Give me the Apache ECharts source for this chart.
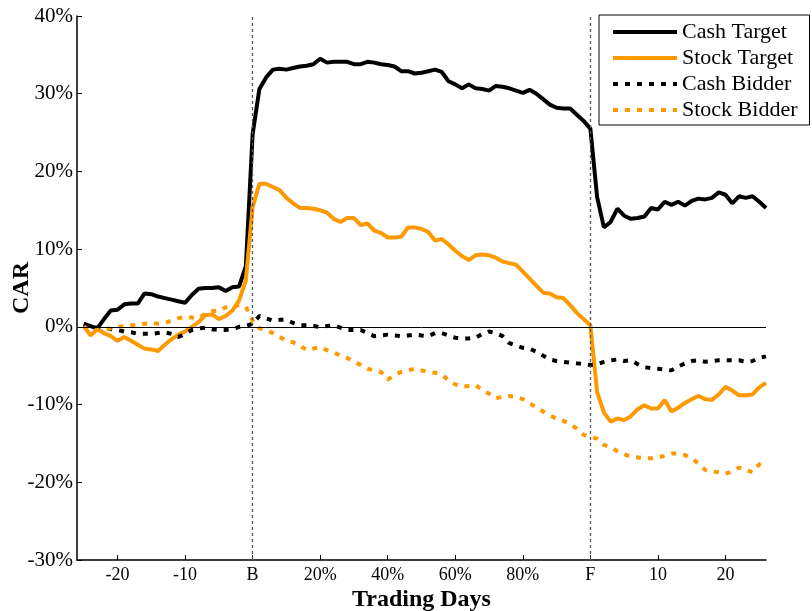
<!DOCTYPE html>
<html>
<head>
<meta charset="utf-8">
<script src="https://cdn.jsdelivr.net/npm/echarts@6/dist/echarts.min.js"></script>
<style>
  html, body { margin: 0; padding: 0; background: #fff; }
  #main { width: 812px; height: 611px; }
</style>
</head>
<body>
<div id="main"></div>
<script>
// x positions: days before B, then B..F scaled to 50 steps (2% each), then days after F
var days = [];
for (var u = -26; u <= 76; u++) days.push(String(u));

var tickDays = ['-20', '-10', '0', '10', '20', '30', '40', '50', '60', '70'];
var tickLabels = ['-20', '-10', 'B', '20%', '40%', '60%', '80%', 'F', '10', '20'];

// CAR in %, from day -25 up to F+26
var cashTarget = [
  0.4, 0.1, -0.2, 1.0, 2.1, 2.2, 2.9, 3.0, 3.0, 4.3,
  4.2, 3.9, 3.7, 3.5, 3.3, 3.1, 4.1, 4.9, 5.0, 5.0,
  5.1, 4.6, 5.1, 5.2, 7.8,
  24.8,
  30.6, 32.1, 33.1, 33.2, 33.1, 33.3, 33.5, 33.6, 33.8, 34.5,
  34.0, 34.1, 34.1, 34.1, 33.8, 33.8, 34.1, 34.0, 33.8, 33.7,
  33.5, 32.9, 32.9, 32.6, 32.7, 32.9, 33.1, 32.8, 31.6, 31.2,
  30.7, 31.2, 30.7, 30.6, 30.4, 31.0, 30.9, 30.7, 30.4, 30.1,
  30.5, 30.0, 29.3, 28.6, 28.2, 28.1, 28.1, 27.3, 26.5, 25.5,
  16.7, 12.8, 13.5, 15.2, 14.3, 13.9, 14.0, 14.2, 15.3, 15.1,
  16.1, 15.7, 16.1, 15.6, 16.2, 16.5, 16.4, 16.6, 17.3, 17.0,
  15.9, 16.8, 16.6, 16.8, 16.1, 15.3
];
var stockTarget = [
  0.1, -1.1, -0.3, -0.8, -1.2, -1.8, -1.3, -1.8, -2.3, -2.8,
  -2.9, -3.1, -2.3, -1.6, -1.0, -0.6, 0.0, 0.6, 1.5, 1.6,
  1.0, 1.4, 2.1, 3.4, 6.0,
  15.4,
  18.4, 18.4, 18.0, 17.6, 16.6, 15.9, 15.3, 15.3, 15.2, 15.0,
  14.7, 13.9, 13.5, 14.0, 14.0, 13.1, 13.3, 12.4, 12.1, 11.5,
  11.5, 11.6, 12.8, 12.8, 12.6, 12.2, 11.1, 11.3, 10.6, 9.8,
  9.1, 8.6, 9.2, 9.3, 9.2, 8.9, 8.4, 8.2, 8.0, 7.1,
  6.2, 5.3, 4.4, 4.3, 3.8, 3.7, 2.8, 1.8, 1.0, 0.2,
  -8.4, -11.0, -12.2, -11.8, -12.0, -11.5, -10.6, -10.1, -10.5, -10.5,
  -9.4, -10.9, -10.4, -9.8, -9.3, -8.9, -9.3, -9.4, -8.7, -7.7,
  -8.2, -8.8, -8.8, -8.7, -7.8, -7.2
];
var cashBidder = [
  0.3, 0.0, -0.1, -0.2, -0.3, -0.4, -0.6, -0.7, -0.9, -0.9,
  -0.9, -0.8, -0.7, -0.9, -1.3, -0.9, -0.4, -0.2, -0.1, -0.3,
  -0.4, -0.4, -0.3, 0.0, 0.1,
  0.4,
  1.4, 1.1, 0.8, 0.9, 0.9, 0.5, 0.2, 0.2, 0.1, 0.0,
  0.1, 0.2, -0.1, -0.4, -0.4, -0.4, -0.8, -1.2, -1.1, -1.0,
  -1.1, -1.2, -1.1, -1.0, -1.1, -1.2, -0.8, -0.8, -1.1, -1.4,
  -1.5, -1.5, -1.4, -0.9, -0.6, -0.8, -1.2, -2.1, -2.4, -2.7,
  -2.8, -3.2, -3.7, -4.2, -4.4, -4.5, -4.6, -4.7, -4.8, -4.9,
  -4.8, -4.5, -4.3, -4.2, -4.4, -4.3, -4.8, -5.2, -5.3, -5.4,
  -5.5, -5.6, -5.1, -4.7, -4.4, -4.3, -4.5, -4.4, -4.3, -4.3,
  -4.3, -4.3, -4.5, -4.4, -4.0, -3.8
];
var stockBidder = [
  0.0, -0.5, -0.4, -0.3, -0.2, 0.0, 0.1, 0.2, 0.2, 0.4,
  0.5, 0.4, 0.5, 0.8, 1.1, 1.3, 1.2, 1.1, 1.7, 2.0,
  2.1, 2.5, 2.6, 2.8, 2.6,
  0.8,
  -0.2, -0.4, -0.8, -1.3, -1.8, -2.0, -2.4, -3.0, -2.8, -2.6,
  -3.0, -3.3, -3.7, -4.0, -4.5, -4.9, -5.4, -5.6, -5.8, -6.8,
  -6.2, -5.8, -5.6, -5.4, -5.6, -5.8, -5.9, -6.1, -6.9, -7.4,
  -7.7, -7.6, -7.5, -8.1, -8.6, -9.2, -9.0, -8.9, -9.0, -9.3,
  -9.8, -10.4, -10.9, -11.4, -11.8, -12.1, -12.5, -13.1, -13.9, -14.1,
  -14.4, -15.2, -15.5, -16.0, -16.4, -16.7, -16.8, -16.9, -16.9, -16.8,
  -16.6, -16.3, -16.3, -16.5, -16.9, -17.6, -18.4, -18.6, -18.7, -18.9,
  -18.6, -18.1, -18.4, -18.7, -17.7, -17.4
];

var ORANGE = '#ff9900';
var FONT = 'Liberation Serif';

var myChart = echarts.init(document.getElementById('main'));

function isTick(index, value) {
  return tickDays.indexOf(String(value)) >= 0;
}

function lineSeries(name, values, color, dashed) {
  return {
    name: name,
    type: 'line',
    data: [null].concat(values),
    symbol: 'none',
    lineStyle: {
      color: color,
      width: 4,
      type: dashed ? [5, 7] : 'solid'
    },
    itemStyle: { color: color }
  };
}

var series = [
  lineSeries('Cash Target', cashTarget, '#000', false),
  lineSeries('Stock Target', stockTarget, ORANGE, false),
  lineSeries('Cash Bidder', cashBidder, '#000', true),
  lineSeries('Stock Bidder', stockBidder, ORANGE, true)
];

// B / F markers and the zero line
series[0].markLine = {
  silent: true,
  symbol: ['none', 'none'],
  label: { show: false },
  data: [
    { xAxis: '0', lineStyle: { color: '#555', width: 1.3, type: [3, 3] } },
    { xAxis: '50', lineStyle: { color: '#555', width: 1.3, type: [3, 3] } },
    { yAxis: 0, lineStyle: { color: '#000', width: 1, type: 'solid' } }
  ]
};

myChart.setOption({
  animation: false,
  grid: { left: 77, right: 46, top: 16, bottom: 51, outerBoundsMode: 'none', containLabel: false },
  legend: {
    orient: 'vertical',
    left: 599,
    top: 15,
    itemWidth: 64,
    itemHeight: 14,
    itemGap: 4,
    padding: [6, 12, 4, 12],
    borderColor: '#000',
    borderWidth: 1,
    borderRadius: 0,
    itemStyle: { opacity: 0 },
    lineStyle: { width: 4 },
    textStyle: { fontFamily: FONT, fontSize: 22, color: '#000' },
    data: ['Cash Target', 'Stock Target', 'Cash Bidder', 'Stock Bidder']
  },
  xAxis: {
    type: 'category',
    data: days,
    boundaryGap: false,
    name: 'Trading Days',
    nameLocation: 'middle',
    nameGap: 28,
    nameMoveOverlap: false,
    nameTextStyle: { fontFamily: FONT, fontSize: 24, fontWeight: 'bold', color: '#000' },
    axisLine: { onZero: false, lineStyle: { color: '#000', width: 1.5 } },
    axisTick: { inside: true, length: 5, interval: isTick, lineStyle: { color: '#000' } },
    axisLabel: {
      interval: isTick,
      margin: 6,
      fontFamily: FONT,
      fontSize: 18,
      color: '#000',
      formatter: function (value) {
        var i = tickDays.indexOf(value);
        return i >= 0 ? tickLabels[i] : '';
      }
    },
    splitLine: { show: false }
  },
  yAxis: {
    type: 'value',
    min: -30,
    max: 40,
    interval: 10,
    name: 'CAR',
    nameLocation: 'middle',
    nameGap: 43,
    nameMoveOverlap: false,
    nameTextStyle: { fontFamily: FONT, fontSize: 24, fontWeight: 'bold', color: '#000' },
    axisLine: { show: true, lineStyle: { color: '#000', width: 1.5 } },
    axisTick: { show: true, inside: true, length: 5, lineStyle: { color: '#000' } },
    axisLabel: {
      margin: 4,
      fontFamily: FONT,
      fontSize: 21,
      color: '#000',
      formatter: '{value}%'
    },
    splitLine: { show: false }
  },
  series: series
});
</script>
</body>
</html>
